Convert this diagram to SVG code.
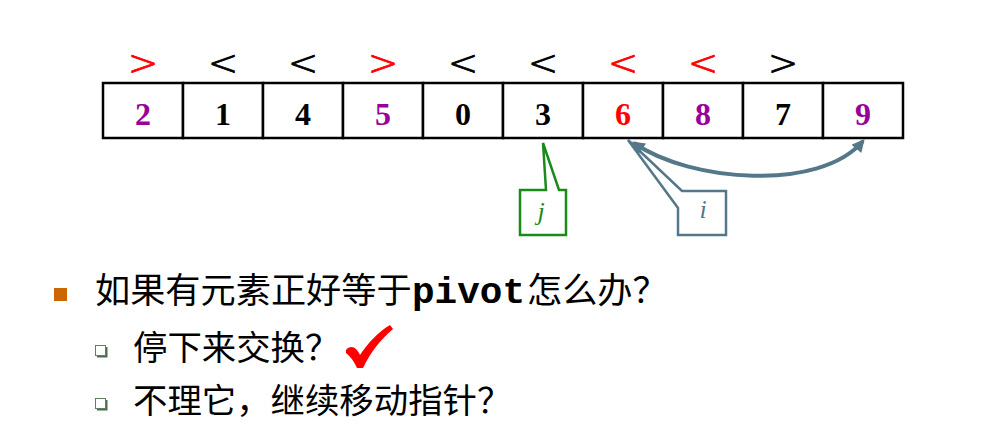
<svg xmlns="http://www.w3.org/2000/svg" width="1002" height="446" viewBox="0 0 1002 446">
<style>
.cell{fill:#fff;stroke:#000;stroke-width:2.5}
.dg{font-family:"Liberation Serif",serif;font-weight:bold;font-size:32px;text-anchor:middle}
.cmp{font-family:"DejaVu Sans",sans-serif;font-weight:200;font-size:36px;text-anchor:middle;stroke-width:0.9}
.blk{fill:#000}.red{fill:#ff0000}.pur{fill:#990099}
.cmp.blk{stroke:#000}.cmp.red{stroke:#ff0000}
.lbl{font-family:"Liberation Serif",serif;font-style:italic;font-size:26px;text-anchor:middle}
.cjk{font-family:"Noto Sans CJK SC",sans-serif;fill:#000}
.mono{font-family:"Liberation Mono",monospace;font-weight:bold;fill:#000}
.sub{fill:#fff;stroke:#5f7f5f;stroke-width:1}
.conn{fill:none;stroke:#54778a;stroke-width:4}
</style>
<defs>
<marker id="ah" viewBox="0 0 10 10" refX="8" refY="5" markerWidth="4.2" markerHeight="3.2" orient="auto-start-reverse" markerUnits="strokeWidth">
<path d="M0,0 L10,5 L0,10 Z" fill="#54778a"/>
</marker>
</defs>
<rect width="1002" height="446" fill="#fff"/>

<g id="array">
<g id="cell0"><rect class="cell" x="103" y="83" width="80" height="55"/><text class="cmp red" x="143" y="75">&gt;</text><text class="dg pur" x="143" y="125">2</text></g>
<g id="cell1"><rect class="cell" x="183" y="83" width="80" height="55"/><text class="cmp blk" x="223" y="75">&lt;</text><text class="dg blk" x="223" y="125">1</text></g>
<g id="cell2"><rect class="cell" x="263" y="83" width="80" height="55"/><text class="cmp blk" x="303" y="75">&lt;</text><text class="dg blk" x="303" y="125">4</text></g>
<g id="cell3"><rect class="cell" x="343" y="83" width="80" height="55"/><text class="cmp red" x="383" y="75">&gt;</text><text class="dg pur" x="383" y="125">5</text></g>
<g id="cell4"><rect class="cell" x="423" y="83" width="80" height="55"/><text class="cmp blk" x="463" y="75">&lt;</text><text class="dg blk" x="463" y="125">0</text></g>
<g id="cell5"><rect class="cell" x="503" y="83" width="80" height="55"/><text class="cmp blk" x="543" y="75">&lt;</text><text class="dg blk" x="543" y="125">3</text></g>
<g id="cell6"><rect class="cell" x="583" y="83" width="80" height="55"/><text class="cmp red" x="623" y="75">&lt;</text><text class="dg red" x="623" y="125">6</text></g>
<g id="cell7"><rect class="cell" x="663" y="83" width="80" height="55"/><text class="cmp red" x="703" y="75">&lt;</text><text class="dg pur" x="703" y="125">8</text></g>
<g id="cell8"><rect class="cell" x="743" y="83" width="80" height="55"/><text class="cmp blk" x="783" y="75">&gt;</text><text class="dg blk" x="783" y="125">7</text></g>
<g id="cell9"><rect class="cell" x="823" y="83" width="80" height="55"/><text class="dg pur" x="863" y="125">9</text></g>
</g>

<g id="callout-j">
<path d="M543,143 L546,190 L520,190 L520,235 L566,235 L566,190 L559,190 Z" fill="#fff" stroke="#1a8a1a" stroke-width="2.5"/>
<text class="lbl" x="541" y="220" fill="#1a8a1a">j</text>
</g>

<g id="callout-i">
<path d="M628,140 L682,191 L726,191 L726,235 L678,235 L678,208 Z" fill="#fff" stroke="#54778a" stroke-width="2.5"/>
<text class="lbl" x="703" y="218" fill="#54778a">i</text>
</g>

<g id="connectors">
<path class="conn" d="M634,143 C690,182 820,192 863,141" marker-start="url(#ah)" marker-end="url(#ah)"/>
</g>

<g id="bullet1">
<rect x="54" y="288" width="13" height="13" fill="#cc6600"/>
<text class="cjk" y="303" font-size="35.2"><tspan x="95">如果有元素正好等于</tspan><tspan class="mono" x="412" font-size="37" textLength="113" lengthAdjust="spacingAndGlyphs">pivot</tspan><tspan x="527">怎么办？</tspan></text>
</g>

<g id="bullet2">
<rect x="97" y="347" width="10.5" height="10.5" fill="#4d6e4d"/>
<rect class="sub" x="95.5" y="345.5" width="10" height="10"/>
<text class="cjk" x="133" y="360" font-size="34.4">停下来交换？</text>
<path d="M346,350 C351,344 357,348 360,355 C368,343 378,332 390,325 L393,329 C380,340 370,353 363,368 L357,368 C354,361 350,356 346,353 Z" fill="#ff0000"/>
</g>

<g id="bullet3">
<rect x="97" y="400" width="10.5" height="10.5" fill="#4d6e4d"/>
<rect class="sub" x="95.5" y="398.5" width="10" height="10"/>
<text class="cjk" x="133" y="413" font-size="34.4">不理它，继续移动指针？</text>
</g>
</svg>
